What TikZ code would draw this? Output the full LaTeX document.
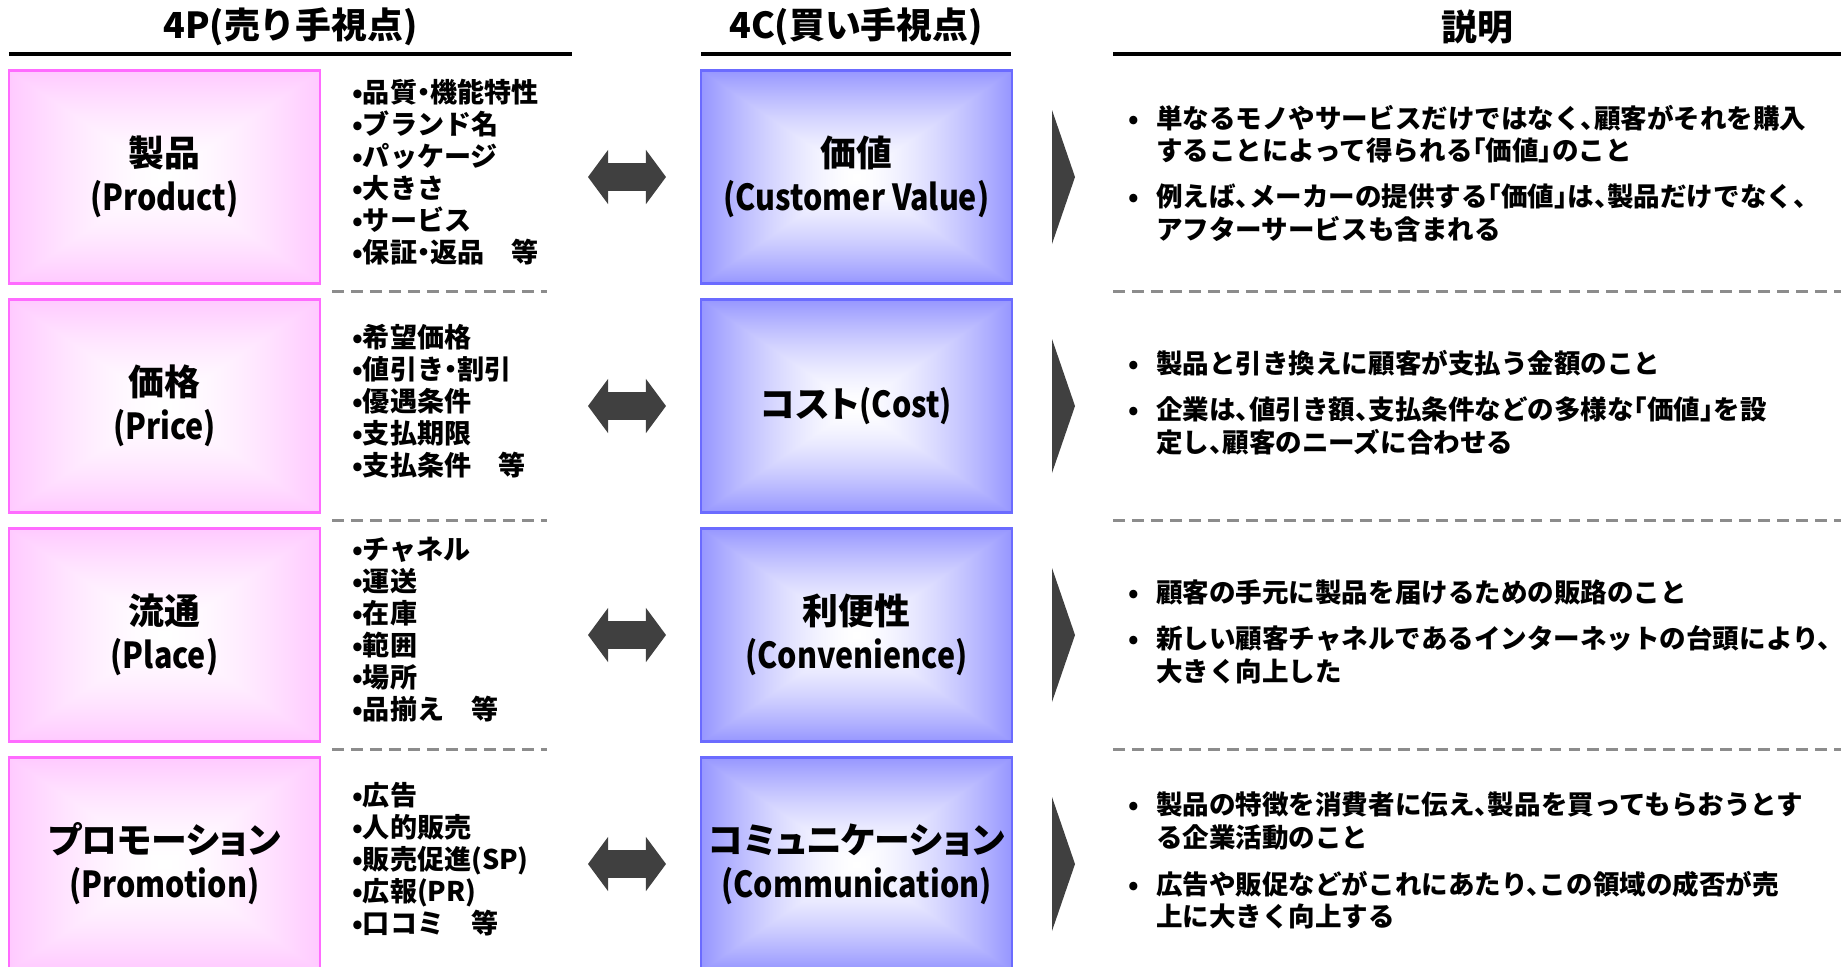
\documentclass[tikz,border=0pt]{standalone}
\usepackage{fontspec}
\setmainfont{Noto Sans CJK JP}[RawFeature={+halt}]
\newfontfamily\boxfont{Noto Sans CJK JP}[RawFeature={+palt}]
\newfontfamily\narrowlat{Noto Sans CJK JP}[FakeStretch=0.85]
\usetikzlibrary{arrows.meta, positioning}
\definecolor{cpink}{HTML}{FF6BFF}
\definecolor{cblue}{HTML}{6B6BFF}
\definecolor{cdark}{HTML}{404040}
\definecolor{cdash}{HTML}{8C8C8C}
% glow from the centre out to the edges (rectangular)
\pgfdeclarefunctionalshading{pinkglow}{\pgfpoint{-50bp}{-50bp}}{\pgfpoint{50bp}{50bp}}{}{
  abs exch abs 2 copy sub abs add add 2 div 25 div
  dup 1 sub abs neg 1 add add 2 div dup sqrt mul
  1 exch 0.21 mul 1 exch sub 1
}
\pgfdeclarefunctionalshading{blueglow}{\pgfpoint{-50bp}{-50bp}}{\pgfpoint{50bp}{50bp}}{}{
  abs exch abs 2 copy sub abs add add 2 div 25 div
  dup 1 sub abs neg 1 add add 2 div dup sqrt mul
  0.41 mul 1 exch sub dup 1
}
\tikzset{
  every picture/.style={line width=0.6pt},
  hdr/.style={font=\bfseries\fontsize{10.2}{12}\selectfont, inner sep=0pt},
  uline/.style={draw=black, line width=0.9pt},
  pbox/.style={draw=cpink, line width=0.6pt, shading=pinkglow, minimum width=3.11cm, minimum height=2.13cm,
    align=center, inner sep=0pt, font=\boxfont\bfseries\fontsize{10.2}{12.5}\selectfont},
  cbox/.style={draw=cblue, line width=0.6pt, shading=blueglow, minimum width=3.11cm, minimum height=2.13cm,
    align=center, inner sep=0pt, font=\boxfont\bfseries\fontsize{10.2}{12.5}\selectfont},
  lst/.style={align=left, inner sep=0pt, font=\bfseries\fontsize{7.7}{9.1}\selectfont},
  desc/.style={inner sep=0pt, anchor=west, font=\bfseries\fontsize{7.55}{9}\selectfont},
  dbl/.style={{Triangle[length=5.7pt, width=15.4pt, line width=0pt]}-{Triangle[length=5.7pt, width=15.4pt, line width=0pt]},
    draw=cdark, line width=8pt},
  sep/.style={draw=cdash, line width=0.85pt, dash pattern=on 3.4pt off 2pt},
}

\begin{document}
\begin{tikzpicture}
  \useasboundingbox (0,0) rectangle (18.41,-9.66);
  % ---- column heads
  \node[hdr] (h1) at (2.905,-0.27) {4P(売り手視点)};
  \node[hdr] (h2) at (8.56,-0.27) {4C(買い手視点)};
  \node[hdr] (h3) at (14.77,-0.27) {説明};
  \draw[uline] (0.09,-0.54) -- (5.72,-0.54);
  \draw[uline] (7.01,-0.54) -- (10.11,-0.54);
  \draw[uline] (11.13,-0.54) -- (18.41,-0.54);
  % ---- 4P
  \node[pbox] (p1) at (1.645,-1.77) {製品\\{\narrowlat (Product)}};
  \node[pbox] (p2) at (1.645,-4.06) {価格\\{\narrowlat (Price)}};
  \node[pbox] (p3) at (1.645,-6.35) {流通\\{\narrowlat (Place)}};
  \node[pbox] (p4) at (1.645,-8.64) {プロモーション\\{\narrowlat (Promotion)}};
  \node[lst, right=0.3cm of p1, yshift=0.05cm] (l1) {•品質・機能特性\\•ブランド名\\•パッケージ\\•大きさ\\•サービス\\•保証・返品　等};
  \node[lst, right=0.3cm of p2, yshift=0.05cm] (l2) {•希望価格\\•値引き・割引\\•優遇条件\\•支払期限\\•支払条件　等};
  \node[lst, right=0.3cm of p3, yshift=0.05cm] (l3) {•チャネル\\•運送\\•在庫\\•範囲\\•場所\\•品揃え　等};
  \node[lst, right=0.3cm of p4, yshift=0.05cm] (l4) {•広告\\•人的販売\\•販売促進(SP)\\•広報(PR)\\•口コミ　等};
  % ---- 4C
  \node[cbox] (c1) at (8.565,-1.77) {価値\\{\narrowlat (Customer Value)}};
  \node[cbox] (c2) at (8.565,-4.06) {コスト{\narrowlat (Cost)}};
  \node[cbox] (c3) at (8.565,-6.35) {利便性\\{\narrowlat (Convenience)}};
  \node[cbox] (c4) at (8.565,-8.64) {コミュニケーション\\{\narrowlat (Communication)}};
  % arrows and chevrons
  \foreach \i/\yy in {1/-1.77, 2/-4.06, 3/-6.35, 4/-8.64} {
    \coordinate (al\i) at (5.88,\yy);
    \coordinate (ar\i) at (6.66,\yy);
    \draw[dbl] (al\i) -- (ar\i);
    \fill[cdark] (10.52,\yy+0.67) -- ++(0.23,-0.67) -- ++(-0.23,-0.67) -- cycle;
  }
  \foreach \yy in {-2.915, -5.205, -7.495} {
    \draw[sep] (3.32,\yy) -- (5.47,\yy);
    \draw[sep] (11.13,\yy) -- (18.41,\yy);
  }
  % ---- explanations
  \node[desc] (d1) at (11.27,-1.77) {\begin{tabular}{@{}l@{\hspace{5pt}}l@{}}
    • & 単なるモノやサービスだけではなく、顧客がそれを購入\\
      & することによって得られる「価値」のこと\\[4pt]
    • & 例えば、メーカーの提供する「価値」は、製品だけでなく、\\
      & アフターサービスも含まれる
  \end{tabular}};
  \node[desc] (d2) at (11.27,-4.06) {\begin{tabular}{@{}l@{\hspace{5pt}}l@{}}
    • & 製品と引き換えに顧客が支払う金額のこと\\[4pt]
    • & 企業は、値引き額、支払条件などの多様な「価値」を設\\
      & 定し、顧客のニーズに合わせる
  \end{tabular}};
  \node[desc] (d3) at (11.27,-6.35) {\begin{tabular}{@{}l@{\hspace{5pt}}l@{}}
    • & 顧客の手元に製品を届けるための販路のこと\\[4pt]
    • & 新しい顧客チャネルであるインターネットの台頭により、\\
      & 大きく向上した
  \end{tabular}};
  \node[desc] (d4) at (11.27,-8.64) {\begin{tabular}{@{}l@{\hspace{5pt}}l@{}}
    • & 製品の特徴を消費者に伝え、製品を買ってもらおうとす\\
      & る企業活動のこと\\[4pt]
    • & 広告や販促などがこれにあたり、この領域の成否が売\\
      & 上に大きく向上する
  \end{tabular}};
\end{tikzpicture}
\end{document}
